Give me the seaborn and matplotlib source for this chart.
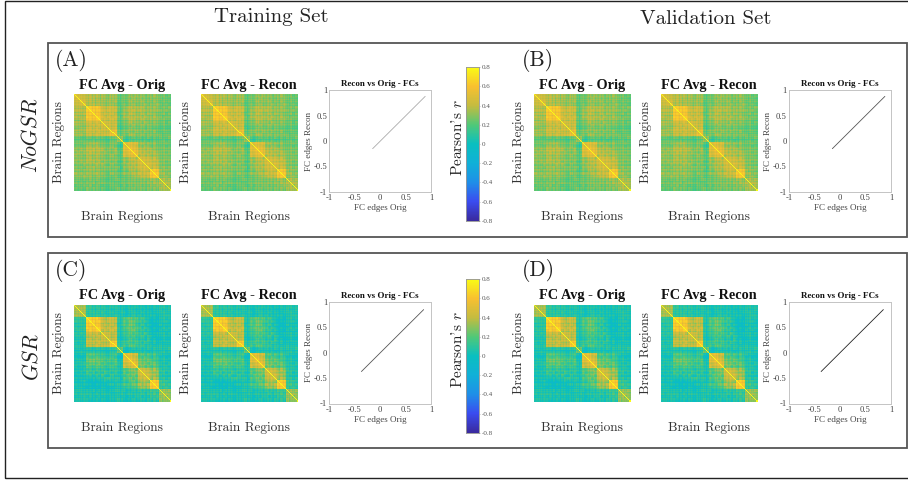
import numpy as np
import seaborn as sns
import matplotlib
matplotlib.use("Agg")
import matplotlib.pyplot as plt
from matplotlib.colors import LinearSegmentedColormap
from matplotlib.patches import Rectangle

# upper triangles of the averaged FC matrices, r x 100, read block by block
nogsr_fc = [
    [50,46,42,40, 34,36,34,36,32, 34,32,28,34,32, 22,20, 26,28,30,28,32, 28,30,26,28, 28,32,28, 24,26,22,24],
    [50,44,42, 36,38,36,34,32, 34,32,30,34,32, 24,22, 28,30,28,32,30, 30,28,28,26, 30,28,30, 26,24,26,22],
    [50,44, 34,36,34,32,34, 32,30,32,32,34, 20,22, 26,28,32,28,30, 28,32,26,28, 26,30,28, 22,26,24,24],
    [50, 32,34,36,32,34, 32,28,30,32,28, 18,20, 28,26,28,30,26, 26,28,30,24, 28,26,32, 24,22,26,20],
    [60,58,56,58,54, 40,36,40,42,38, 24,20, 30,34,36,32,34, 32,34,28,30, 28,30,28, 22,26,24,28],
    [60,58,56,56, 42,38,42,40,40, 22,18, 32,34,34,36,32, 34,32,30,28, 30,28,30, 26,24,28,22],
    [60,56,54, 38,40,38,42,36, 20,22, 34,32,38,34,30, 30,34,28,32, 30,28,26, 24,28,22,26],
    [60,58, 44,38,42,40,42, 24,18, 34,36,34,32,34, 32,30,34,28, 28,32,28, 26,22,26,24],
    [60, 40,42,38,44,40, 22,20, 30,32,36,34,32, 30,34,30,28, 30,28,30, 24,26,24,22],
    [44,44,42,40,40, 22,18, 28,30,34,28,30, 28,26,32,26, 26,28,26, 22,26,20,24],
    [44,42,40,42, 18,16, 26,28,26,30,26, 26,30,26,28, 26,24,26, 20,24,22,20],
    [44,42,44, 20,14, 24,26,28,26,26, 24,26,22,26, 24,20,22, 18,22,20,18],
    [52,54, 24,22, 30,32,28,26,32, 28,26,30,26, 26,30,24, 22,24,26,22],
    [52, 26,20, 28,26,32,30,26, 26,28,24,26, 26,24,26, 24,20,24,22],
    [30,28, 20,16,18,22,20, 22,18,20,24, 18,22,20, 24,20,22,26],
    [30, 14,12,18,16,20, 18,16,20,14, 16,20,18, 20,22,18,20],
    [54,52,50,46,48, 32,34,30,32, 28,32,26, 26,26,28,24],
    [54,52,48,46, 32,30,34,32, 26,30,28, 26,28,24,26],
    [54,50,48, 36,34,32,34, 32,28,26, 24,26,26,24],
    [54,50, 38,34,36,32, 32,34,30, 26,26,24,26],
    [54, 34,38,34,36, 30,32,32, 26,26,28,24],
    [44,44,42,42, 36,40,34, 26,26,28,26],
    [44,44,42, 40,36,38, 26,28,24,26],
    [44,46, 42,40,38, 28,26,26,24],
    [44, 38,42,40, 26,30,26,28],
    [58,58,56, 32,28,30,26],
    [58,58, 30,32,26,28],
    [58, 28,30,32,26],
    [34,36,32,34],
    [34,38,34],
    [34,36],
    [34],
]
gsr_fc = [
    [36,36,32,34, 8,10,6,8,6, 8,6,4,8,6, 4,2, 4,6,2,4,6, 2,4,0,4, 2,4,2, 6,8,4,6],
    [36,36,34, 10,8,8,6,10, 6,8,6,4,6, 6,4, 2,4,6,4,2, 4,2,4,2, 0,2,4, 8,4,6,8],
    [36,34, 6,8,10,8,6, 10,4,6,8,4, 2,6, 6,2,4,6,4, 2,6,2,4, 2,0,4, 6,8,6,4],
    [36, 8,6,8,10,8, 6,8,4,6,8, 4,2, 2,4,2,8,4, 6,2,4,2, 4,2,0, 4,6,8,6],
    [62,60,58,60,52, 38,32,38,42,36, 8,4, 18,22,20,14,18, 8,14,6,2, -4,-2,-6, 4,6,2,4],
    [62,60,56,58, 40,34,38,38,36, 6,2, 20,16,22,18,14, 10,6,8,0, -6,-4,-2, 2,4,6,0],
    [62,56,54, 36,38,34,40,34, 4,6, 20,18,24,20,12, 6,12,2,4, -2,-6,-4, 6,2,4,2],
    [62,60, 42,36,40,38,42, 8,2, 16,22,20,16,18, 12,4,10,2, -6,-2,-4, 0,6,2,4],
    [62, 34,40,36,44,38, 6,4, 14,18,20,22,16, 8,10,4,6, -2,-4,-6, 4,2,6,0],
    [42,42,40,36,38, 8,2, 14,16,18,12,16, 10,6,14,4, 0,-2,2, 4,6,2,4],
    [42,40,36,40, 4,0, 10,16,12,16,10, 8,14,4,10, 4,-2,0, 2,6,4,2],
    [42,40,42, 6,-2, 8,12,16,10,12, 4,8,2,12, 0,2,-4, 0,4,2,0],
    [60,60, 10,6, 14,18,14,10,16, 10,6,12,8, 2,6,0, 4,2,6,4],
    [60, 12,4, 16,12,18,16,12, 8,10,4,6, 4,0,2, 6,2,4,2],
    [22,20, 4,0,2,6,4, 6,2,4,8, 2,6,4, 8,4,6,10],
    [22, -2,-4,2,0,4, 2,0,4,-2, 0,4,2, 4,6,2,4],
    [54,54,50,42,46, 18,22,14,20, 12,18,10, 8,4,6,2],
    [54,52,44,42, 20,16,22,18, 10,16,14, 4,8,2,4],
    [54,46,42, 24,20,18,22, 16,12,10, 2,6,4,0],
    [54,48, 26,22,24,16, 20,22,14, 6,4,2,6],
    [54, 22,26,18,22, 14,20,16, 4,6,8,2],
    [42,42,40,38, 28,34,26, 10,6,8,4],
    [42,44,38, 32,28,30, 6,10,2,6],
    [42,44, 34,32,28, 8,4,6,2],
    [42, 28,36,32, 6,10,4,8],
    [60,60,58, 14,10,12,6],
    [60,58, 10,14,8,10],
    [60, 12,8,14,6],
    [30,32,30,32],
    [30,34,28],
    [30,32],
    [30],
]

# how much each region sits above or below its block, the plaid stripes
region_stripes = [
    2,-3,4,1,-5,3,-2,5,-4,0,6,-3,
    4,7,-2,5,8,3,-6,6,4,-7,5,7,
    2,6,-8,4,5,-3,7,1,-6,3,-5,6,
    5,-7,2,-4,6,3,7,-2,4,-6,5,8,
    -3,4,-7,-8,-5,2,6,-4,8,3,-2,7,
    5,-6,4,2,-3,7,6,-5,3,8,-2,-6,
    6,4,-4,7,2,-7,5,8,3,-3,6,-5,
    4,-2,5,-6,3,7,-4,1,-5,4,2,-3,
]

# end points of the recon vs orig clouds
edges_nogsr = [-0.15, 0.25, 0.55, 0.88]
edges_gsr = [-0.37, 0.1, 0.5, 0.85]

scale_ticks = [-1, -0.5, 0, 0.5, 1]
scale_labels = ['-1', '-0.5', '0', '0.5', '1']
bar_ticks = [-0.8, -0.6, -0.4, -0.2, 0, 0.2, 0.4, 0.6, 0.8]
bar_labels = ['-0.8', '-0.6', '-0.4', '-0.2', '0', '0.2', '0.4', '0.6', '0.8']

parula = LinearSegmentedColormap.from_list('parula', [
    '#3a2a9e', '#3a4cf0', '#1f8fe8', '#10b0d8', '#0abfc0',
    '#50c878', '#c4bc40', '#f8c030', '#f9fb15'])

W, H = 908, 480
SERIF = 'Liberation Serif'
CM = 'cmr10'


def build_matrix(tri):
    n = len(tri)
    m = np.zeros((n, n))
    for i, row in enumerate(tri):
        m[i, i:] = row
    m = m + m.T - np.diag(np.diag(m))
    m = np.repeat(np.repeat(m, 3, axis=0), 3, axis=1)
    s = np.array(region_stripes) * 0.6
    m = (m + s[:, None] + s[None, :]) / 100.0
    np.fill_diagonal(m, 0.8)
    return m


def px_axes(x0, y0, x1, y1):
    return fig.add_axes([x0 / W, 1 - y1 / H, (x1 - x0) / W, (y1 - y0) / H])


def px_text(x, y, s, **kw):
    kw.setdefault('ha', 'center')
    kw.setdefault('va', 'center')
    kw.setdefault('family', CM)
    fig.text(x / W, 1 - y / H, s, **kw)


def frame(x0, y0, x1, y1, color, lw):
    fig.add_artist(Rectangle((x0 / W, 1 - y1 / H), (x1 - x0) / W, (y1 - y0) / H,
                             transform=fig.transFigure, fill=False,
                             edgecolor=color, linewidth=lw))


def fc_map(x0, y0, matrix, title):
    ax = px_axes(x0, y0, x0 + 96.5, y0 + 96.5)
    sns.heatmap(matrix, ax=ax, cmap=parula, vmin=-0.8, vmax=0.8, cbar=False,
                square=False, xticklabels=False, yticklabels=False)
    px_text(x0 + 48, y0 - 9, title, family=SERIF, weight='bold', fontsize=10.3, color='#111111')
    px_text(x0 + 48, y0 + 123, 'Brain Regions', fontsize=9.6, color='#333333')
    px_text(x0 - 15, y0 + 48, 'Brain Regions', fontsize=9.6, color='#333333', rotation=90)


def cloud(x0, y0, edges, color):
    ax = px_axes(x0, y0, x0 + 102, y0 + 101.5)
    sns.lineplot(x=edges, y=edges, ax=ax, color=color, linewidth=0.6)
    ax.set_xlim(-1, 1)
    ax.set_ylim(-1, 1)
    ax.set_xticks(scale_ticks)
    ax.set_yticks(scale_ticks)
    ax.set_xticklabels(scale_labels)
    ax.set_yticklabels(scale_labels)
    ax.tick_params(direction='in', length=1.2, width=0.4, color='#bbbbbb', labelsize=6.2,
                   labelcolor='#444444', pad=1.5)
    for lab in ax.get_xticklabels() + ax.get_yticklabels():
        lab.set_family(SERIF)
    for s in ax.spines.values():
        s.set_color('#c4c4c4')
        s.set_linewidth(0.7)
        s.set_visible(True)
    ax.set_title('Recon vs Orig - FCs', family=SERIF, weight='bold', fontsize=6.5, pad=3, color='#111111')
    ax.set_xlabel('FC edges Orig', family=SERIF, fontsize=6.5, color='#444444', labelpad=1.5)
    ax.set_ylabel('FC edges Recon', family=SERIF, fontsize=6.5, color='#444444', labelpad=0.5)


def color_bar(y0, matrix):
    cax = px_axes(465.7, y0, 479, y0 + 153.5)
    dummy = fig.add_axes([0, 0, 0.001, 0.001])
    sns.heatmap(matrix, ax=dummy, cmap=parula, vmin=-0.8, vmax=0.8, cbar_ax=cax,
                xticklabels=False, yticklabels=False)
    dummy.set_visible(False)
    cax.set_yticks(bar_ticks)
    cax.set_yticklabels(bar_labels, family=SERIF)
    cax.tick_params(length=1, width=0.4, labelsize=5, labelcolor='#555555', color='#999999', pad=0.8)
    for s in cax.spines.values():
        s.set_visible(True)
        s.set_color('#999999')
        s.set_linewidth(0.5)
    px_text(457, y0 + 70, "Pearson's $r$", fontsize=11, rotation=90, color='#222222')


plt.rcParams['axes.unicode_minus'] = False
sns.set_style("white")
plt.rcParams['mathtext.fontset'] = 'cm'
fig = plt.figure(figsize=(W / 100, H / 100), dpi=100, facecolor='white')

frame(5, 0.5, 912, 477.5, '#222222', 1.0)
frame(47.5, 42.5, 906.7, 237, '#555555', 1.3)
frame(47.5, 253, 906.7, 447.7, '#555555', 1.3)

fc_a = build_matrix(nogsr_fc)
fc_c = build_matrix(gsr_fc)

rows = [(94, 90.3, 60.7, fc_a, edges_nogsr, '(A)', '(B)', '#aaaaaa', '#555555'),
        (305, 302, 271, fc_c, edges_gsr, '(C)', '(D)', '#555555', '#222222')]
for map_y, line_y, tag_y, mat, edges, tag_l, tag_r, col_l, col_r in rows:
    fc_map(74.3, map_y, mat, 'FC Avg - Orig')
    fc_map(201.3, map_y, mat, 'FC Avg - Recon')
    fc_map(534, map_y, mat, 'FC Avg - Orig')
    fc_map(661, map_y, mat, 'FC Avg - Recon')
    cloud(329.3, line_y, edges, col_l)
    cloud(789, line_y, edges, col_r)
    px_text(71.5, tag_y, tag_l, fontsize=15.5, color='#222222')
    px_text(538, tag_y, tag_r, fontsize=15.5, color='#222222')

color_bar(67.3, fc_a)
color_bar(279.3, fc_c)

px_text(271, 17, 'Training Set', fontsize=15, color='#222222')
px_text(706, 19, 'Validation Set', fontsize=15, color='#222222')
px_text(31, 135, 'NoGSR', family='cmmi10', fontsize=15.5, rotation=90, color='#222222')
px_text(31, 356, 'GSR', family='cmmi10', fontsize=15.5, rotation=90, color='#222222')

fig.savefig('out.png', dpi=100)
